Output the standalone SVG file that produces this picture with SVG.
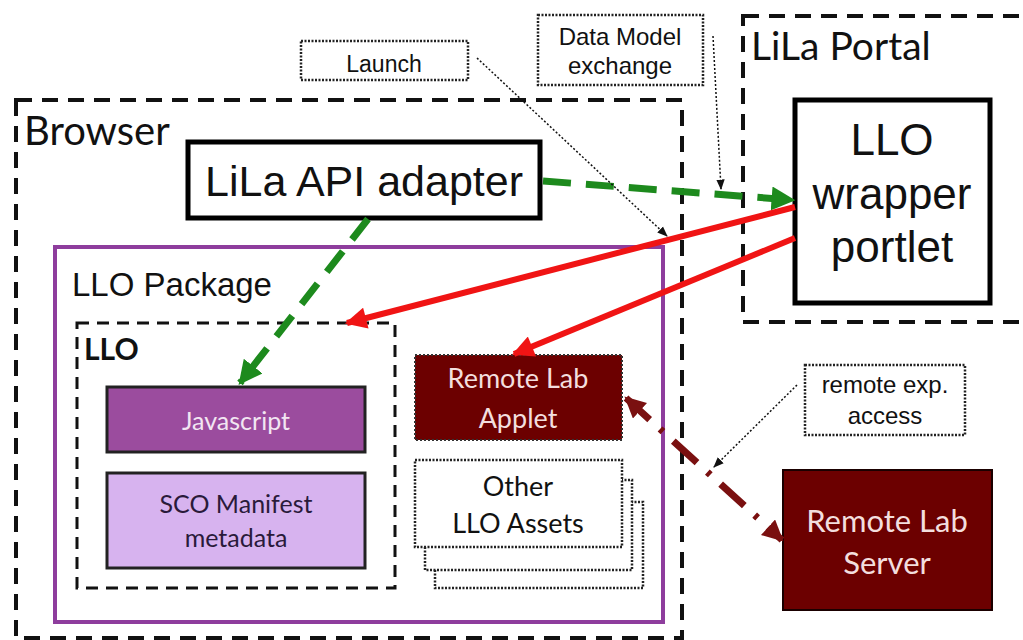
<svg xmlns="http://www.w3.org/2000/svg" width="1023" height="640" viewBox="0 0 1023 640">
<defs>
<style>
.arial{font-family:"Liberation Sans",Arial,sans-serif;}
.cal{font-family:Lato,"Open Sans",sans-serif;}
.cont{fill:none;stroke:#111;stroke-width:4;stroke-dasharray:16 10;}
.note{fill:#fff;stroke:#222;stroke-width:2.5;stroke-dasharray:2 1.5;}
.solid{fill:#fff;stroke:#000;stroke-width:5;}
.dark{fill:#6c0000;}
</style>
<marker id="mg" viewBox="0 0 10 10" refX="9" refY="5" markerWidth="3.4" markerHeight="3.4" orient="auto" markerUnits="strokeWidth"><path d="M0,0 L10,5 L0,10 z" fill="#1d8a1d"/></marker>
<marker id="mr" viewBox="0 0 10 10" refX="9" refY="5" markerWidth="4" markerHeight="3.6" orient="auto" markerUnits="strokeWidth"><path d="M0,0 L10,5 L0,10 z" fill="#f01414"/></marker>
<marker id="md" viewBox="0 0 10 10" refX="9" refY="5" markerWidth="3" markerHeight="3" orient="auto-start-reverse" markerUnits="strokeWidth"><path d="M0,0 L10,5 L0,10 z" fill="#7a1010"/></marker>
<marker id="mk" viewBox="0 0 10 10" refX="9" refY="5" markerWidth="7" markerHeight="7" orient="auto" markerUnits="strokeWidth"><path d="M0,1 L10,5 L0,9 z" fill="#111"/></marker>
</defs>
<rect width="1023" height="640" fill="#fff"/>

<g id="browser">
<rect class="cont" x="16" y="100" width="666" height="538"/>
<text class="cal" x="24" y="145" font-size="40" fill="#111">Browser</text>
</g>
<g id="portal">
<rect class="cont" x="743" y="16" width="310" height="306"/>
<text class="cal" x="751" y="60" font-size="39" fill="#111">LiLa Portal</text>
</g>
<g id="package">
<rect x="55" y="247" width="608" height="375" fill="none" stroke="#8e3d9d" stroke-width="4"/>
<text class="arial" x="72" y="296" font-size="33" fill="#111">LLO Package</text>
</g>
<g id="llo">
<rect x="77" y="323" width="318" height="265" fill="none" stroke="#111" stroke-width="3" stroke-dasharray="12 8"/>
<text class="cal" x="84" y="360" font-size="30" font-weight="bold" fill="#111">LLO</text>
</g>
<g id="adapter">
<rect class="solid" x="188" y="142" width="352" height="76"/>
<text class="arial" x="364" y="196" font-size="43" text-anchor="middle" fill="#111">LiLa API adapter</text>
</g>
<g id="portlet">
<rect class="solid" x="795" y="100" width="195" height="203"/>
<text class="arial" x="892" y="155" font-size="44" text-anchor="middle" fill="#111">LLO</text>
<text class="arial" x="892" y="209" font-size="44" text-anchor="middle" fill="#111">wrapper</text>
<text class="arial" x="892" y="262" font-size="44" text-anchor="middle" fill="#111">portlet</text>
</g>
<g id="javascript">
<rect x="107" y="387" width="258" height="65" fill="#9b4c9e" stroke="#222" stroke-width="3"/>
<text class="cal" x="236" y="430" font-size="25" text-anchor="middle" fill="#f2e6f2">Javascript</text>
</g>
<g id="sco">
<rect x="107" y="473" width="258" height="95" fill="#d7b3ef" stroke="#222" stroke-width="3"/>
<text class="cal" x="236" y="513" font-size="25" text-anchor="middle" fill="#2a1a3a">SCO Manifest</text>
<text class="cal" x="236" y="547" font-size="25" text-anchor="middle" fill="#2a1a3a">metadata</text>
</g>
<g id="applet">
<rect class="dark" x="415" y="355" width="207" height="85" stroke="#333" stroke-width="2" stroke-dasharray="2 2"/>
<text class="cal" x="518" y="388" font-size="27" text-anchor="middle" fill="#f3dede">Remote Lab</text>
<text class="cal" x="518" y="428" font-size="27" text-anchor="middle" fill="#f3dede">Applet</text>
</g>
<g id="assets">
<rect class="note" x="435" y="502" width="208" height="86"/>
<rect class="note" x="425" y="480" width="207" height="90"/>
<rect class="note" x="415" y="460" width="207" height="87"/>
<text class="cal" x="518" y="496" font-size="27" text-anchor="middle" fill="#111">Other</text>
<text class="cal" x="518" y="533" font-size="27" text-anchor="middle" fill="#111">LLO Assets</text>
</g>
<g id="server">
<rect class="dark" x="783" y="470" width="209" height="140" stroke="#1a0000" stroke-width="2"/>
<text class="cal" x="887" y="532" font-size="31" text-anchor="middle" fill="#f3dede">Remote Lab</text>
<text class="cal" x="887" y="574" font-size="31" text-anchor="middle" fill="#f3dede">Server</text>
</g>
<g id="launch">
<rect class="note" x="301" y="41" width="167" height="39"/>
<text class="arial" x="384" y="72" font-size="23" text-anchor="middle" fill="#111">Launch</text>
</g>
<g id="datamodel">
<rect class="note" x="538" y="15" width="165" height="70"/>
<text class="arial" x="620" y="45" font-size="24" text-anchor="middle" fill="#111">Data Model</text>
<text class="arial" x="620" y="74" font-size="24" text-anchor="middle" fill="#111">exchange</text>
</g>
<g id="remoteexp">
<rect class="note" x="805" y="365" width="160" height="70"/>
<text class="arial" x="885" y="393" font-size="24" text-anchor="middle" fill="#111">remote exp.</text>
<text class="arial" x="885" y="424" font-size="24" text-anchor="middle" fill="#111">access</text>
</g>

<g id="connectors" fill="none">
<path d="M543,181 L793,200" stroke="#1d8a1d" stroke-width="7" stroke-dasharray="28 15" marker-end="url(#mg)"/>
<path d="M368,219 L240,383" stroke="#1d8a1d" stroke-width="7" stroke-dasharray="26 15" marker-end="url(#mg)"/>
<path d="M795,207 L347,323" stroke="#f01414" stroke-width="6" marker-end="url(#mr)"/>
<path d="M795,238 L514,354" stroke="#f01414" stroke-width="6" marker-end="url(#mr)"/>
<path d="M626,398 L782,540" stroke="#7a1010" stroke-width="7" stroke-dasharray="32 14 4 14" marker-start="url(#md)" marker-end="url(#md)"/>
<path d="M477,58 L667,236" stroke="#111" stroke-width="1.5" stroke-dasharray="2 2" marker-end="url(#mk)"/>
<path d="M713,36 L721,189" stroke="#111" stroke-width="1.5" stroke-dasharray="2 2" marker-end="url(#mk)"/>
<path d="M797,385 L714,467" stroke="#111" stroke-width="1.5" stroke-dasharray="2 2" marker-end="url(#mk)"/>
</g>
</svg>
